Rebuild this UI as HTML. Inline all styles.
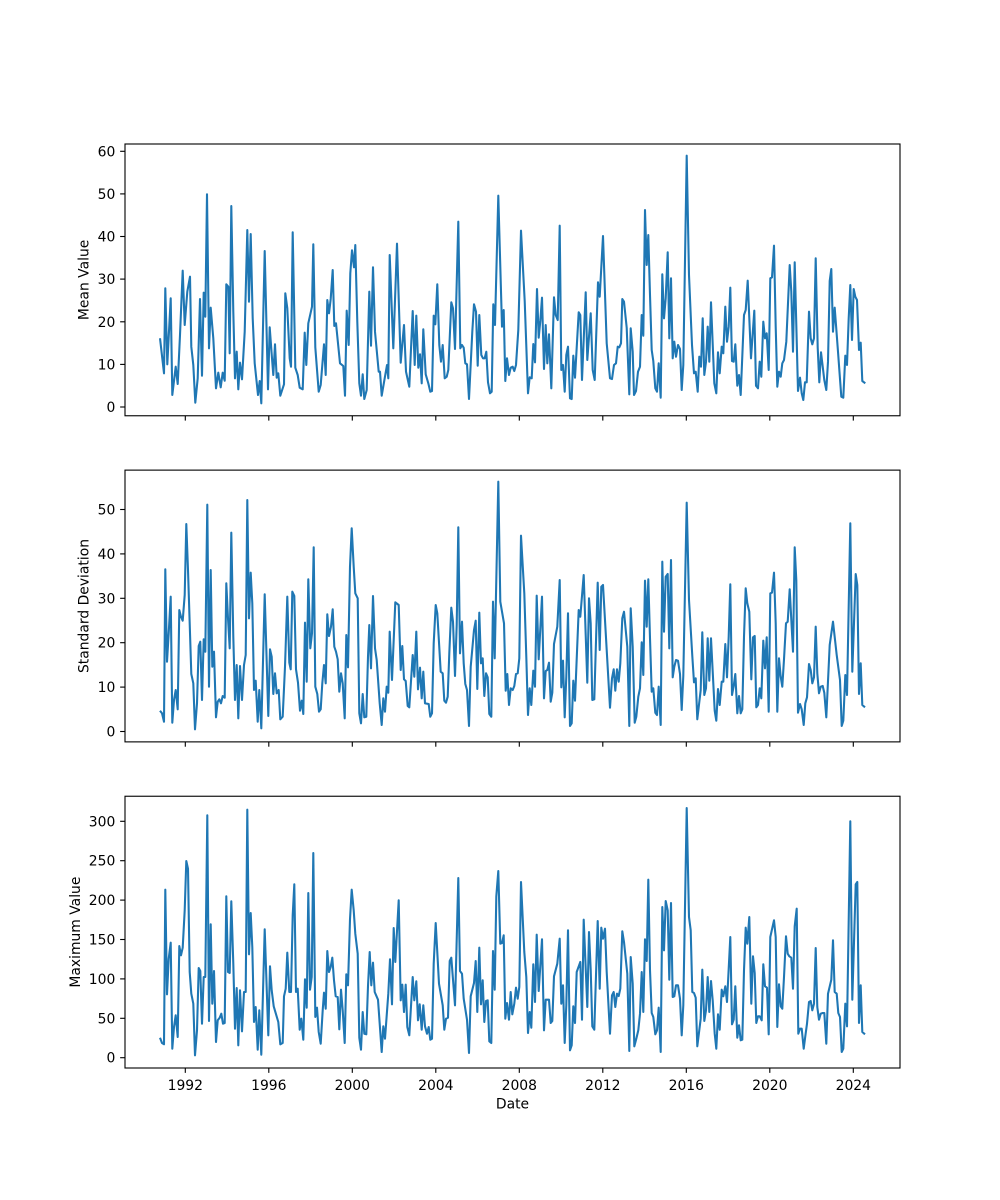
<!DOCTYPE html>
<html>
<head>
<meta charset="utf-8">
<style>
html,body{margin:0;padding:0;background:#fff;}
svg{display:block;}
text{font-family:"DejaVu Sans","Liberation Sans",sans-serif;font-size:13.9px;fill:#000;}
</style>
</head>
<body>
<svg width="1000" height="1200" viewBox="0 0 1000 1200" xmlns="http://www.w3.org/2000/svg">
<rect x="0" y="0" width="1000" height="1200" fill="#fff"/>
<defs>
<clipPath id="c1"><rect x="125" y="144" width="775" height="271.76"/></clipPath>
<clipPath id="c2"><rect x="125" y="470.12" width="775" height="271.76"/></clipPath>
<clipPath id="c3"><rect x="125" y="796.24" width="775" height="271.76"/></clipPath>
</defs>

<!-- Panel 1 -->
<polyline clip-path="url(#c1)" fill="none" stroke="#1f77b4" stroke-width="2.08" stroke-linejoin="round" points="160,338.3 164,373.3 165.3,288.3 167.3,364.3 170.7,298.3 172.3,395 175.7,366.7 177.7,384 180,335 182.7,270.7 184.7,325 187.3,291.7 190,276.7 191.3,346.7 193.3,365 195.3,402.7 197.7,378.3 200,299 202,375.7 203.7,292.7 205.3,316.7 207,194.3 209,348.3 210.7,307.7 213.3,338.3 216,388.3 218.3,372.7 220.7,387.3 222.7,372.7 224.7,380.7 226.3,284.3 228.3,286.7 229.7,353.3 231.3,206 233.3,311.7 235,378.3 236.7,351.7 238.3,389.3 240,362.7 242,379.3 244.7,331.7 247.3,230 249,301.7 250.7,234 252.7,318.3 254.7,363.3 258,395 259.7,381 261.3,403.3 264.7,251 268,389.3 269.7,327.3 272,358.3 273.3,375 275,344.3 276.7,377.7 278.3,373.3 280.3,395.7 284,384.3 285.3,293.3 287.3,308.3 289.7,358.3 291,366.7 292.7,232.3 295.3,367.7 297.7,375 299.7,387.7 302.7,389.3 304.7,332.7 306.3,365 308.3,323.3 312,306.7 313.3,244.3 315.3,347.3 318.7,391.7 320.7,385 324,344.3 325.7,375 327.3,300 329,313.3 330.7,299 332.7,270 334.3,326 336,323.3 340,363.3 343.3,366 345,395.7 346.7,310.7 348.7,345 350.3,273.3 352,250.3 354,267.3 355.3,245 357.3,321.7 359.3,383.3 361,395.7 362.7,374.3 364.3,399 366.7,390 369.3,291.7 371,345.7 373,267.3 375,331.7 378.7,371.7 380,371.7 381.7,395.7 384,382.3 387,365 388.3,378.3 389.7,255 393.3,348.3 397,243.7 400.7,362.7 404,325 406,371.7 409.3,386.7 412.7,311 414.7,365 416.3,315.7 418.3,367.7 420,354.3 421.7,383.3 423.3,329.3 425.7,374.3 428.3,383.3 430.3,391.7 432,391 433.7,315.7 435.3,324.3 437.3,284.3 439.3,345 441,361.7 442.7,345 444.7,378.3 446.7,376.7 448.3,370 451.3,302.3 453,308.3 455,349 458.3,221.7 460.3,348.3 462,345 463.7,347.7 465.3,363.3 467,364.3 469,399 472.3,331.7 474,304.3 476,311.7 477.7,365.7 479.3,315 481.3,355 483,358.3 484.7,358.3 486.3,351.7 488,382.3 490,393.3 491.7,391.7 493.3,304.3 495,325 498.3,195.7 502,326.7 503.7,310 505.3,381 507,358.3 509,375 510.7,367.7 512.7,366.7 514.3,371 516,365 518.3,330 521,230.7 524.7,301 528,393.3 529.7,377.3 531.7,378.3 533.3,344 535,362.3 537,289 538.7,337.7 540.3,321 542,297.7 544,369 545.7,325 547.3,363.3 549,334.3 551.3,388.3 554,297.3 555.7,315 557.7,320 559.7,225.7 561.3,370 563,365 564.7,391.7 566.3,355 568,346.7 570,398.3 571.7,399 573.3,355.7 575,377.7 578.7,312.3 580.3,315 582,380 585.7,292.3 587.3,360 590.7,313.3 592.7,370 594.7,380 598,282.3 599.7,296.7 603,236 606.7,343.3 610,378.3 612,379 614,365 616,363.3 617.7,346.7 619.3,347.3 621,343.3 622.3,299 624,301.7 626.7,327.7 629.3,394.3 630.7,328.3 632.7,351.7 634,395 636,391 638,371.7 640,366.7 641.7,315 643.3,335.7 645,210 646.7,265 648.3,235 650,295 651.7,350 653.3,361 655.3,388.3 657,391.7 658.7,363.3 660.7,397.7 662.3,274.3 664,318.3 665.7,298.3 667.7,252.3 669.3,338.3 671,278.3 672.7,358.3 674.3,341.7 676,356.7 678,345 680,349 681.7,390 683.3,365 686.7,155.7 689,275 692,345 694,373.3 695.7,371.7 697.7,391.7 699.3,356.7 701,366.7 702.7,318.3 704.3,375 706,361.7 707.7,326.7 709.3,361.7 711,302.3 714.3,383.3 716.3,393.3 718,352.3 719.7,373.3 721.7,346.7 723.3,353.3 725.3,306.7 727,341.7 728.7,326.7 730.3,287.7 732,361 733.7,361.7 735.3,344.3 737.3,385.7 739,375 740.7,395 744,315 745.7,310 747.7,280.7 751,358.3 754.3,310.7 756,385.7 758,388.3 759.7,361.7 761.3,376.7 763.3,321.7 765,338.3 766.7,333.3 768.7,370 770.3,278.3 772,277.3 774,245.7 775.7,326.7 777.3,386.7 779,371.7 780.7,376.7 782.3,363.3 784,360 786.3,341.7 789.7,265 791.3,291.7 793,351.7 794.7,262.3 798,391 800,377.7 801.7,393.3 803.3,400 805,382.3 806.7,382.3 809,311.7 810.7,338.3 812.3,344.3 814,338.3 815.7,258.3 817.7,347.7 819.3,382.3 821,352.3 824.3,380 826.3,390 828,361.7 829.7,281 831.3,269 833,331.7 834.7,307.7 838,351.7 841.3,396.7 843.3,397.7 845.3,355.7 847,365 848.7,318.3 850.3,285 852,340 853.7,289 855.3,296.7 857,300 859,350 860.7,342.7 862.3,381 865.3,383.3"/>
<rect x="125" y="144" width="775" height="271.76" fill="none" stroke="#000" stroke-width="1.11"/>
<g stroke="#000" stroke-width="1.11">
<line x1="125" x2="120.14" y1="407" y2="407"/>
<line x1="125" x2="120.14" y1="364.4" y2="364.4"/>
<line x1="125" x2="120.14" y1="321.8" y2="321.8"/>
<line x1="125" x2="120.14" y1="279.1" y2="279.1"/>
<line x1="125" x2="120.14" y1="236.5" y2="236.5"/>
<line x1="125" x2="120.14" y1="193.9" y2="193.9"/>
<line x1="125" x2="120.14" y1="151.3" y2="151.3"/>
</g>
<g text-anchor="end">
<text x="115.3" y="412">0</text>
<text x="115.3" y="369.4">10</text>
<text x="115.3" y="326.8">20</text>
<text x="115.3" y="284.1">30</text>
<text x="115.3" y="241.5">40</text>
<text x="115.3" y="198.9">50</text>
<text x="115.3" y="156.3">60</text>
</g>
<text transform="translate(88.6,279.9) rotate(-90)" text-anchor="middle">Mean Value</text>
<g stroke="#000" stroke-width="1.11">
<line x1="185.3" x2="185.3" y1="415.76" y2="420.6"/>
<line x1="268.8" x2="268.8" y1="415.76" y2="420.6"/>
<line x1="352.3" x2="352.3" y1="415.76" y2="420.6"/>
<line x1="435.8" x2="435.8" y1="415.76" y2="420.6"/>
<line x1="519.3" x2="519.3" y1="415.76" y2="420.6"/>
<line x1="602.8" x2="602.8" y1="415.76" y2="420.6"/>
<line x1="686.3" x2="686.3" y1="415.76" y2="420.6"/>
<line x1="769.8" x2="769.8" y1="415.76" y2="420.6"/>
<line x1="853.3" x2="853.3" y1="415.76" y2="420.6"/>
</g>

<!-- Panel 2 -->
<polyline clip-path="url(#c2)" fill="none" stroke="#1f77b4" stroke-width="2.08" stroke-linejoin="round" points="160,710.7 162,713.3 164,721.7 165.3,569.3 167,661.7 168.7,633.3 170.7,596.7 172.3,722.7 174,700 175.7,690 177.7,709.3 179.3,610 181,616.7 182.7,620.7 184.7,595 186.3,524 188,570 191.3,674 193.3,683.3 195,729.3 197,703.3 198.7,646 200.3,641.7 202,700 203.7,639.3 205.3,651.7 207.3,504.7 209,686.7 210.7,570 212.3,666.7 214,651.7 216,717.3 217.7,701.7 219.3,699.3 221,703.3 222.7,696 224.7,697.7 226.3,583.3 228,618.3 229.7,648.3 231.3,532.7 233.3,636.7 235,700 236.7,665 238.3,718.3 240,666 242,700 244,665 245.7,655 247.3,500 249,618.3 250.7,572.7 252.3,603.3 254,690 255.7,680.7 257.7,721.7 259.3,690 261.3,728.3 264.7,594.3 268.3,716 270,649.3 271.7,656.7 273.3,694 275,673.3 276.7,693.3 278.7,690 280.3,719.3 282.7,716.7 285,666.7 287.3,596.7 289.3,662.7 290.7,669.3 292.3,591.7 294.3,596 296,669.3 298,682.7 300,710.7 301.7,700.7 303.3,714 305,622.7 306.7,681.7 308.3,579.3 310.3,648.3 312,633.3 313.7,547.3 315.3,686.7 317.3,694 319,711.7 320.7,709.3 322.3,683.3 324,665 325.7,683.3 327.3,614.3 329,636 331,626.7 332.7,609.3 334.3,646.7 336,651.7 337.7,659.3 339.3,691.7 341,673.3 342.7,683.3 344.7,718.3 346.3,635 348,667.3 350,566.7 351.7,528.3 353.7,566.7 355.3,593.3 357.7,598.3 359.3,713.3 361,723.3 362.7,694 364.3,717.3 366.3,716.7 368,656.7 369.3,625 371,668.3 373,596 375,648.3 376.7,660 379.7,703.3 381.7,725 383.3,698.3 385,711.7 386.7,686.7 388.3,692.7 389.7,631.7 392,680 395.3,602.3 398.7,605 400.7,670 402.3,646 404,679.3 405.7,681 407.7,706 409.3,707.3 412.7,655 414.3,676.7 416.3,631.7 418,689.3 420,667.7 421.7,698.3 423.3,671.7 425,703.3 428.7,704 430.3,716.7 432,713.3 433.7,643.3 435.7,605 437.3,613.3 440.7,671.7 442.7,673.3 444.3,700.7 446,702.7 447.7,696.7 449.3,653.3 451.3,607.7 453,621.7 455,676 456.7,625 458.3,527.3 460,653.3 462,621.7 463.7,663.3 465.3,684 467,690 469,726 470.7,666.7 474,630 475.7,620.7 477.3,689 479.3,612.7 481,663.3 482.7,658.3 484.3,696 486,673.3 487.7,677.3 489.3,714 491.3,716.7 493,601.7 494.7,658.3 498.3,481.7 500.3,601.7 504,623.3 505.7,690.7 507.3,674 509,705 510.7,688.3 512.7,690 514.3,686 516,674 517.7,673.3 519.3,658.3 521,535.7 524.3,593.3 526.3,656.7 528,715 529.7,688.3 531.3,705 533.3,670.7 535,686.7 536.7,595.7 538.7,659.3 542,596.7 544,698.3 545.7,671 547.3,670 549,662.7 550.7,701.7 552.3,692.7 554,644 557.3,626.7 559.7,580 561.3,687.3 563,660.7 564.7,717.3 566.3,676.7 568,613.3 570,726 571.7,723.3 573.3,680.7 575,700.7 578.7,610 580.3,616.7 583.7,575 587.3,682.7 589,598.3 590.7,623.3 592.3,700 594.3,699.3 597.7,582.7 599.7,650 601.3,586.7 603,585 606.7,650 610,707.7 612,678.3 613.7,669.3 615.3,690.7 617,669.3 618.7,681.7 620.3,663.3 622.3,618.3 624,611.7 627.3,646.7 629.3,726 630.7,608.3 632.7,646.7 634.7,722.7 636.3,716.7 638.3,696.7 640,688.3 641.7,642.3 643.3,675 645,580.7 646.7,626.7 648.3,579.3 650,638.3 651.7,691.7 653.3,688.3 655.3,712.7 657,715 658.7,686.7 660.7,725 662.3,561.7 664,631.7 665.7,576.7 667.7,574 669.3,648.3 671,560 672.7,677.3 674.3,666.7 676,660 678,660.7 680,674 681.7,710 683.3,676 686.7,502.7 689,600 692.3,656 694,682.3 695.7,678.3 697.3,719.3 700.7,690 702.3,632.3 704.3,695 706,688.3 707.7,638.3 709.3,680.7 711,638.3 714.7,710.7 716.3,720.7 718,689 719.7,705 721.7,681.7 723.3,681.7 725.3,644 727,677.3 728.7,636.7 730.3,584.3 732,695 733.7,686 735.3,674 737.3,713.3 739,696 740.7,713.3 742.3,709.3 744,636.7 745.7,588.3 747.3,603.3 749.3,611.7 751.3,679.3 753,637.3 754.7,636 756.3,707.3 758,705 759.7,688.3 761.3,698.3 763.3,640.7 765,668.3 766.7,637.3 768.7,711.7 770.3,593.3 772,592.7 774,572.7 775.7,623.3 777.3,711.7 779,658.3 780.7,676.7 782.3,686.7 784,659.3 786,623.3 787.7,621.7 789.7,589.3 793,651.7 794.7,547.3 796.3,580 798,712.7 800,704 801.7,709.3 803.7,725 805.3,703.3 807,697.3 809,664 810.7,670 812.3,683.3 814,677.3 815.7,626.7 817.3,673.3 819,693.3 820.7,686.7 822.7,686 824.3,692.7 826.3,717.3 829.7,645 833,621.7 836.7,655 840,680 841.7,726 843.3,720.7 845.3,675 847,695 850.3,523.3 852.3,671.7 855.7,574 857.3,585 859,694 860.7,663.3 862.3,705 865,707.3"/>
<rect x="125" y="470.12" width="775" height="271.76" fill="none" stroke="#000" stroke-width="1.11"/>
<g stroke="#000" stroke-width="1.11">
<line x1="125" x2="120.14" y1="731.5" y2="731.5"/>
<line x1="125" x2="120.14" y1="687.1" y2="687.1"/>
<line x1="125" x2="120.14" y1="642.7" y2="642.7"/>
<line x1="125" x2="120.14" y1="598.3" y2="598.3"/>
<line x1="125" x2="120.14" y1="553.9" y2="553.9"/>
<line x1="125" x2="120.14" y1="509.5" y2="509.5"/>
</g>
<g text-anchor="end">
<text x="115.3" y="736.5">0</text>
<text x="115.3" y="692.1">10</text>
<text x="115.3" y="647.7">20</text>
<text x="115.3" y="603.3">30</text>
<text x="115.3" y="558.9">40</text>
<text x="115.3" y="514.5">50</text>
</g>
<text transform="translate(88.6,606) rotate(-90)" text-anchor="middle">Standard Deviation</text>
<g stroke="#000" stroke-width="1.11">
<line x1="185.3" x2="185.3" y1="741.88" y2="746.7"/>
<line x1="268.8" x2="268.8" y1="741.88" y2="746.7"/>
<line x1="352.3" x2="352.3" y1="741.88" y2="746.7"/>
<line x1="435.8" x2="435.8" y1="741.88" y2="746.7"/>
<line x1="519.3" x2="519.3" y1="741.88" y2="746.7"/>
<line x1="602.8" x2="602.8" y1="741.88" y2="746.7"/>
<line x1="686.3" x2="686.3" y1="741.88" y2="746.7"/>
<line x1="769.8" x2="769.8" y1="741.88" y2="746.7"/>
<line x1="853.3" x2="853.3" y1="741.88" y2="746.7"/>
</g>

<!-- Panel 3 -->
<polyline clip-path="url(#c3)" fill="none" stroke="#1f77b4" stroke-width="2.08" stroke-linejoin="round" points="160,1037.7 162,1043 164,1044.3 165.3,889.7 167,994.3 168.7,958.7 170.7,942.7 172.3,1048.7 174,1027 175.7,1015.3 177.7,1037 179.3,946 181,955.3 182.7,947.7 184.7,910.3 186.3,861 188,868.7 189.7,972 191.3,993.7 193.3,1003.7 195,1055.3 197,1030.3 198.7,968 200.3,971 202,1023.7 203.7,977 205.3,977 207.3,815.3 209,1021 210.7,924.3 212.3,1003.7 214,971 216,1042 217.7,1020.3 219.7,1017.7 221.3,1013.7 223,1023.7 224.7,1023 226.3,896.3 228,972 229.7,973 231.3,901.3 233.3,963.7 235,1028.7 236.7,988 238.3,1045.3 240,990.3 242,1031.3 244,992 245.7,992 247.3,809.7 249,954.3 250.7,913 252.3,947 254,1022 255.7,1007 257.7,1049.7 259.3,1010.3 261.3,1054.7 264.7,929.3 268.3,1035.3 270,966.3 271.7,990.3 273.7,1006.3 278.3,1022 280.3,1044.3 282.7,1043 284,996.3 285.7,988.7 287.3,952.7 289.3,992 291,992 292.7,915.3 294.3,884.3 296,992 297.7,988.7 299.7,1029.7 301.3,1018.7 303.3,1039.7 305,979.3 306.7,1007.7 308.3,893 310,989.7 311.7,977 313.3,853 315.3,1017 317,1007.7 318.7,1032 320.7,1043.7 322.7,1010.3 324,992.7 325.7,1008.7 327.3,951 329,972 330.7,967 332.3,957.7 334,980.3 335.7,996.3 337.7,997 339.3,1029.3 341,989.7 342.7,1010.3 344.7,1043 346.3,974.3 348,985.3 350,919.3 351.7,889.7 353.7,910.3 355.3,933.7 357.7,953.7 359.3,1037.7 361,1049.7 362.7,1012 364.3,1033.7 366.3,1034.3 368,986 369.7,952 371.3,985.3 373,962.7 374.7,992 378,999.7 381.7,1052 383.3,1026.3 385,1038.7 388.3,993.7 390,959.3 392,1004.3 393.7,928 395.3,962 398.7,900.3 400.7,1000.3 402.3,984.7 404,1012 405.7,984.7 407.3,1027 409.3,1035.3 412.7,977 414.3,1000.3 416.3,981.3 418,1020.3 419.7,1004.3 421.7,1029.7 423.3,1005.3 425,1026.3 427,1033.7 428.7,1027 430.3,1039.7 432,1038.7 433.7,963.7 435.7,923 439,983.7 442.7,1005.3 444.3,1029.7 446,1018.7 448,1017.7 449.7,961 451.3,957.7 455,1005.3 458.3,878 460,971 462,973.7 463.7,998.7 467,1019.7 469,1053 470.7,996.3 474,983 475.7,961 477.3,1012 479.3,947.7 481,1004.3 482.7,980.3 484.3,1022 486,1001 487.7,1000.3 489.3,1041.3 491.3,1043 493,951 494.7,989.7 496.3,896.3 498.3,871 500.3,943.7 502,943 503.7,935.3 505.3,1018.7 507,1003 509,1019.7 510.7,992 512.3,1014.3 514.3,1003.7 516,987.7 517.7,998.7 519.3,987 521,882 524.3,952 526.3,977 528,1033 529.7,1012 531.3,1027.7 533.3,964.3 535,1002 536.7,934.7 538.7,991 542,939.3 544,1030.3 545.7,999.7 549,999.7 550.7,1023 552.3,1021 554,976.3 557.3,963.7 559.7,938.7 561.3,1003.7 563,985.3 564.7,1043 566.3,1005.3 568,930.3 570,1050.3 571.7,1045.3 573.3,1006.3 575,1023 576.7,972 580.3,962 582,1019.7 583.7,919.7 587.3,1007 589,932 590.7,969.7 592.3,1026.3 594.3,1029.7 597.7,921 599.7,988.7 601.3,927.7 603,938.7 605,928.7 606.7,972 610,1033.7 612,995.3 613.7,992 615.3,1007 617,993.7 618.7,996 620.3,988.7 622.3,931.3 624,942 627.3,973.7 629.3,1051 630.7,957 632.7,983.7 634.3,1046.3 636.3,1038.7 638.3,1030.3 640,1013.7 641.7,972 643.3,1012 645,939.3 646.7,961 648.3,879.7 650,970.3 651.7,1013 653.3,1017 655.3,1034.3 657,1030.3 658.7,1007.7 660.7,1052 662.3,907 664,950.3 665.7,901 667.7,910.3 669.3,979.7 671,903 672.7,997 674.3,996.3 676,985.3 678,985.3 680,998.7 681.7,1035.3 683.3,1005.3 686.7,808 689,917 690.7,930.3 692.3,992 694,993 695.7,997.7 697.3,1046.3 700.7,1018.7 702.3,969.7 704.3,1021 706,1010.3 707.7,977 709.3,1012 711,981 712.7,1000.3 714.7,1033.7 716.3,1048.7 718,1014.3 719.7,1029.7 721.7,989.7 723.3,996.3 725.3,986.3 727,1002 728.7,968.7 730.3,937 732,1024.3 733.7,1019.7 735.3,986.3 737.3,1037.7 739,1025.3 740.7,1040.3 742.3,1039.7 744,970.3 745.7,927.7 747.3,943.7 749.3,917 751.3,1003.7 753,956.3 754.7,973 756.3,1023 758,1016.3 759.7,1016.3 761.7,1020.3 763.3,964.3 765,986.3 767,987.7 768.7,1034.3 770.3,937 774,920.3 775.7,937 777.3,1027 779,984.3 780.7,1006.3 782.3,1008.7 784,977 786,936.3 787.7,953.7 789.3,956.3 791.3,957.7 793,988.7 794.7,926.3 796.7,908.7 798.3,1033.7 800,1028.7 801.7,1028.7 803.7,1048.7 805.3,1036.3 807,1023.7 809,1002 810.7,1001 812.3,1010.3 814,1003.7 815.7,948 817.3,1007 819,1019.7 820.7,1013.7 822.7,1013 824.3,1013 826.3,1043.7 828,993.7 831.3,979.7 833,940.3 834.7,992 836.7,993.7 838.3,1013 840,1017 841.7,1052 843.3,1048.7 845.3,1003.7 847,1026.3 850.3,821.3 852.3,999.7 855.7,884.3 857.3,882 859,1023 860.7,985.3 862.3,1032 865,1034.3"/>
<rect x="125" y="796.24" width="775" height="271.76" fill="none" stroke="#000" stroke-width="1.11"/>
<g stroke="#000" stroke-width="1.11">
<line x1="125" x2="120.14" y1="1057.7" y2="1057.7"/>
<line x1="125" x2="120.14" y1="1018.3" y2="1018.3"/>
<line x1="125" x2="120.14" y1="978.9" y2="978.9"/>
<line x1="125" x2="120.14" y1="939.5" y2="939.5"/>
<line x1="125" x2="120.14" y1="900.1" y2="900.1"/>
<line x1="125" x2="120.14" y1="860.7" y2="860.7"/>
<line x1="125" x2="120.14" y1="821.3" y2="821.3"/>
</g>
<g text-anchor="end">
<text x="115.3" y="1062.7">0</text>
<text x="115.3" y="1023.3">50</text>
<text x="115.3" y="983.9">100</text>
<text x="115.3" y="944.5">150</text>
<text x="115.3" y="905.1">200</text>
<text x="115.3" y="865.7">250</text>
<text x="115.3" y="826.3">300</text>
</g>
<text transform="translate(80,932.1) rotate(-90)" text-anchor="middle">Maximum Value</text>
<g stroke="#000" stroke-width="1.11">
<line x1="185.3" x2="185.3" y1="1068" y2="1072.86"/>
<line x1="268.8" x2="268.8" y1="1068" y2="1072.86"/>
<line x1="352.3" x2="352.3" y1="1068" y2="1072.86"/>
<line x1="435.8" x2="435.8" y1="1068" y2="1072.86"/>
<line x1="519.3" x2="519.3" y1="1068" y2="1072.86"/>
<line x1="602.8" x2="602.8" y1="1068" y2="1072.86"/>
<line x1="686.3" x2="686.3" y1="1068" y2="1072.86"/>
<line x1="769.8" x2="769.8" y1="1068" y2="1072.86"/>
<line x1="853.3" x2="853.3" y1="1068" y2="1072.86"/>
</g>
<g text-anchor="middle">
<text x="185.3" y="1090">1992</text>
<text x="268.8" y="1090">1996</text>
<text x="352.3" y="1090">2000</text>
<text x="435.8" y="1090">2004</text>
<text x="519.3" y="1090">2008</text>
<text x="602.8" y="1090">2012</text>
<text x="686.3" y="1090">2016</text>
<text x="769.8" y="1090">2020</text>
<text x="853.3" y="1090">2024</text>
</g>
<text x="512.5" y="1108.5" text-anchor="middle">Date</text>
</svg>
</body>
</html>
